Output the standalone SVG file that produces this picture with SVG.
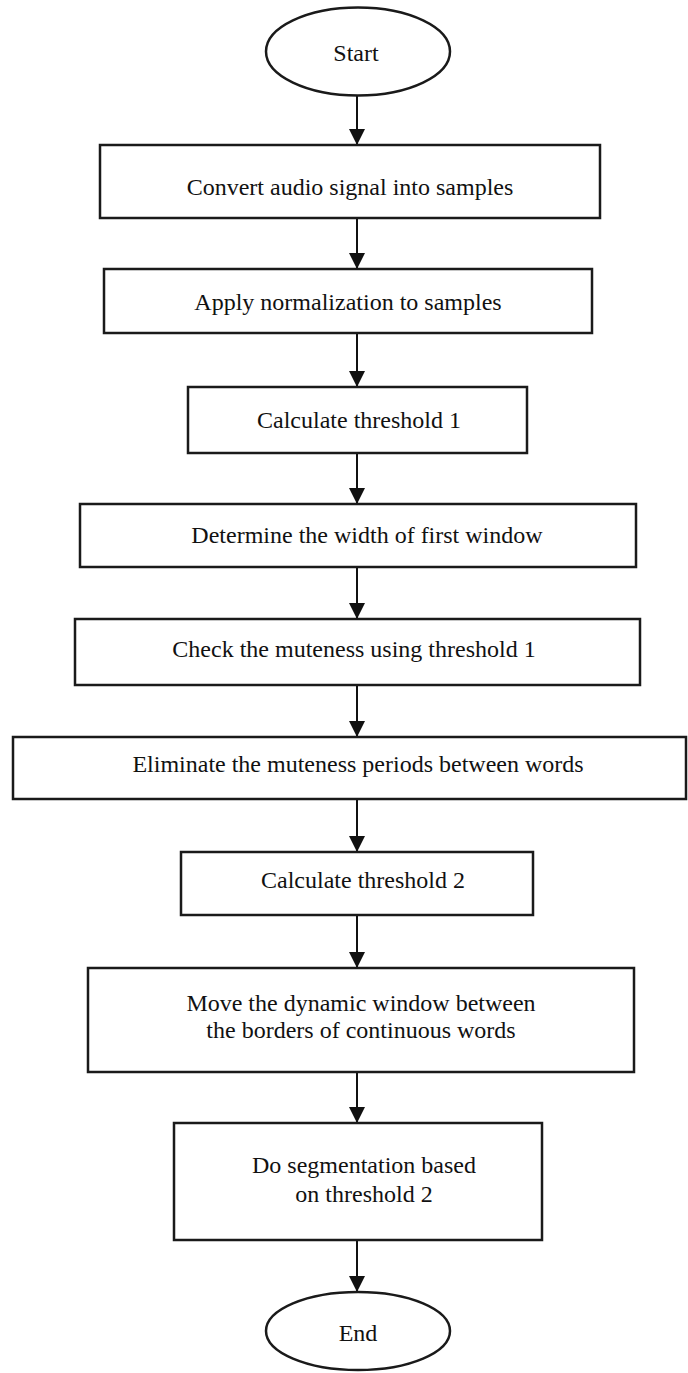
<svg xmlns="http://www.w3.org/2000/svg" width="688" height="1373" viewBox="0 0 688 1373">
<style>
.box{fill:#fff;stroke:#1a1a1a;stroke-width:2.5}
.lbl{font-family:"Liberation Serif","Times New Roman",serif;font-size:24px;text-anchor:middle;fill:#111}
.con{stroke:#111;stroke-width:2;fill:none}
</style>
<defs>
<marker id="arr" markerUnits="userSpaceOnUse" markerWidth="16" markerHeight="16" viewBox="0 0 16 16" refX="16" refY="8" orient="auto">
<path d="M0,0 L16,8 L0,16 Z" fill="#111"/>
</marker>
</defs>
<rect width="688" height="1373" fill="#fff"/>
<g id="connectors">
<line class="con" x1="357" y1="96" x2="357" y2="145" marker-end="url(#arr)"/>
<line class="con" x1="357" y1="218" x2="357" y2="269" marker-end="url(#arr)"/>
<line class="con" x1="357" y1="333" x2="357" y2="387" marker-end="url(#arr)"/>
<line class="con" x1="357" y1="453" x2="357" y2="504" marker-end="url(#arr)"/>
<line class="con" x1="357" y1="567" x2="357" y2="619" marker-end="url(#arr)"/>
<line class="con" x1="357" y1="685" x2="357" y2="737" marker-end="url(#arr)"/>
<line class="con" x1="357" y1="799" x2="357" y2="852" marker-end="url(#arr)"/>
<line class="con" x1="357" y1="915" x2="357" y2="968" marker-end="url(#arr)"/>
<line class="con" x1="357" y1="1072" x2="357" y2="1123" marker-end="url(#arr)"/>
<line class="con" x1="357" y1="1240" x2="357" y2="1292" marker-end="url(#arr)"/>
</g>
<g id="start">
<ellipse class="box" cx="358" cy="51.5" rx="92" ry="44"/>
<text class="lbl" x="356" y="61">Start</text>
</g>
<g id="n1">
<rect class="box" x="100" y="145" width="500" height="73"/>
<text class="lbl" x="350" y="195">Convert audio signal into samples</text>
</g>
<g id="n2">
<rect class="box" x="104" y="269" width="488" height="64"/>
<text class="lbl" x="348" y="310">Apply normalization to samples</text>
</g>
<g id="n3">
<rect class="box" x="188" y="387" width="339" height="66"/>
<text class="lbl" x="359" y="428">Calculate threshold 1</text>
</g>
<g id="n4">
<rect class="box" x="80" y="504" width="556" height="63"/>
<text class="lbl" x="367" y="543">Determine the width of first window</text>
</g>
<g id="n5">
<rect class="box" x="75" y="619" width="565" height="66"/>
<text class="lbl" x="354" y="657">Check the muteness using threshold 1</text>
</g>
<g id="n6">
<rect class="box" x="13" y="737" width="673" height="62"/>
<text class="lbl" x="358" y="772">Eliminate the muteness periods between words</text>
</g>
<g id="n7">
<rect class="box" x="181" y="852" width="352" height="63"/>
<text class="lbl" x="363" y="888">Calculate threshold 2</text>
</g>
<g id="n8">
<rect class="box" x="88" y="968" width="546" height="104"/>
<text class="lbl" x="361" y="1011">Move the dynamic window between</text>
<text class="lbl" x="361" y="1038">the borders of continuous words</text>
</g>
<g id="n9">
<rect class="box" x="174" y="1123" width="368" height="117"/>
<text class="lbl" x="364" y="1173">Do segmentation based</text>
<text class="lbl" x="364" y="1202">on threshold 2</text>
</g>
<g id="end">
<ellipse class="box" cx="358" cy="1331" rx="92" ry="39"/>
<text class="lbl" x="358" y="1341">End</text>
</g>
</svg>
